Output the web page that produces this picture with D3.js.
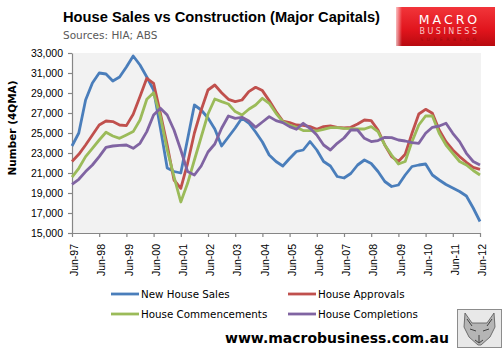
<!DOCTYPE html>
<html>
<head>
<meta charset="utf-8">
<script src="https://cdn.jsdelivr.net/npm/d3@7"></script>
<style>
  body { margin: 0; background: #fff; }
  svg { display: block; font-family: "DejaVu Sans", sans-serif; }
</style>
</head>
<body>
<div id="chart"></div>
<script>
// quarterly, Jun-97 .. Jun-12 (4 quarter moving average)
var sales = [23700, 25000, 28300, 30000, 31000, 30900, 30200, 30600, 31600, 32700,
  31800, 30600, 29300, 25500, 21500, 21150, 21000, 24400, 27800, 27300,
  26500, 25400, 23700, 24600, 25500, 26500, 26000, 25100, 24100, 22800,
  22150, 21700, 22450, 23150, 23300, 24150, 23300, 22150, 21700, 20650,
  20500, 20950, 21800, 22300, 21950, 21150, 20150, 19650, 19800, 20800,
  21650, 21800, 21900, 20800, 20300, 19850, 19500, 19150, 18700, 17500, 16150];
var approvals = [22150, 22870, 23800, 24800, 25800, 26200, 26140, 25800, 25740, 26870,
  28640, 30470, 29970, 26970, 23800, 20300, 19470, 21970, 25000, 27300,
  29300, 29800, 29030, 28370, 28140, 28300, 29140, 29570, 29240, 28240,
  27140, 26200, 26040, 25800, 25770, 25640, 25370, 25640, 25700, 25570,
  25500, 25570, 25900, 26300, 26240, 25300, 23800, 22640, 22150, 22870,
  24970, 26900, 27370, 26970, 25300, 24140, 23300, 22640, 22070, 21570, 21370];
var commencements = [20580, 21470, 22640, 23470, 24300, 25070, 24700, 24470, 24800, 25140,
  26300, 28370, 29030, 26640, 23300, 20640, 18100, 19970, 22300, 24600,
  26900, 28400, 28140, 27900, 27140, 26800, 27370, 27800, 28470, 27970,
  26970, 26140, 25800, 25570, 25240, 25240, 25200, 25370, 25540, 25540,
  25470, 25440, 25400, 25400, 25640, 25140, 23800, 22800, 21900, 22150,
  24140, 25800, 26700, 26700, 24970, 23800, 22970, 22150, 21800, 21250, 20800];
var completions = [19870, 20370, 21140, 21800, 22640, 23570, 23700, 23770, 23800, 23470,
  23970, 25140, 26800, 27470, 26800, 25300, 23300, 21140, 20800, 21700,
  23100, 23900, 25470, 26700, 26470, 26570, 26200, 25570, 26100, 26640,
  26240, 26040, 25640, 25370, 25970, 25470, 24800, 23800, 23300, 23970,
  24500, 25300, 25300, 24470, 24140, 24240, 24570, 24540, 24300, 24200,
  24040, 23970, 24970, 25570, 25700, 25970, 24970, 24140, 22970, 22150, 21800];

var seriesNames = ["New House Sales", "House Approvals", "House Commencements", "House Completions"];
var seriesColors = ["#4a7ebb", "#c0504d", "#9bbb59", "#8064a2"];
var tickLabels = ["Jun-97", "Jun-98", "Jun-99", "Jun-00", "Jun-01", "Jun-02", "Jun-03", "Jun-04",
  "Jun-05", "Jun-06", "Jun-07", "Jun-08", "Jun-09", "Jun-10", "Jun-11", "Jun-12"];
var yTicks = [15000, 17000, 19000, 21000, 23000, 25000, 27000, 29000, 31000, 33000];

var W = 502, H = 352;
var svg = d3.select("#chart").append("svg")
    .attr("width", W)
    .attr("height", H);

// scales
var x = d3.scaleLinear().domain([0, sales.length - 1]).range([72, 480]);
var y = d3.scaleLinear().domain([15000, 33000]).range([233, 53]);

// plot background
svg.append("rect")
    .attr("x", x(0)).attr("y", y(33000))
    .attr("width", x(sales.length - 1) - x(0) + 1)
    .attr("height", y(15000) - y(33000))
    .attr("fill", "#f2f2f2");

// title
svg.append("text")
    .attr("x", 63).attr("y", 22)
    .attr("textLength", 317).attr("lengthAdjust", "spacingAndGlyphs")
    .style("font-family", "'Liberation Sans', sans-serif")
    .style("font-weight", "bold").style("font-size", "15.5px")
    .attr("fill", "#000")
    .text("House Sales vs Construction (Major Capitals)");
svg.append("text")
    .attr("x", 63).attr("y", 39)
    .style("font-size", "10.5px")
    .attr("fill", "#595959")
    .text("Sources: HIA; ABS");

// logo
var defs = svg.append("defs");
var grad = defs.append("linearGradient").attr("id", "logoRed")
    .attr("x1", 0).attr("y1", 0).attr("x2", 0).attr("y2", 1);
grad.append("stop").attr("offset", "0%").attr("stop-color", "#f2353a");
grad.append("stop").attr("offset", "60%").attr("stop-color", "#e0141c");
grad.append("stop").attr("offset", "100%").attr("stop-color", "#b80a10");
var fade = defs.append("linearGradient").attr("id", "logoFade")
    .attr("x1", 0).attr("y1", 0).attr("x2", 1).attr("y2", 0);
fade.append("stop").attr("offset", "0%").attr("stop-color", "#fff").attr("stop-opacity", 0.7);
fade.append("stop").attr("offset", "100%").attr("stop-color", "#fff").attr("stop-opacity", 0);
svg.append("rect").attr("x", 396).attr("y", 7).attr("width", 99).attr("height", 39)
    .attr("fill", "url(#logoRed)");
svg.append("rect").attr("x", 396).attr("y", 7).attr("width", 6).attr("height", 39)
    .attr("fill", "url(#logoFade)");
svg.append("text").attr("x", 449.5).attr("y", 23.5).attr("text-anchor", "middle")
    .style("font-size", "12.5px").style("letter-spacing", "3px")
    .attr("fill", "#fff").text("MACRO");
svg.append("text").attr("x", 449.5).attr("y", 33.5).attr("text-anchor", "middle")
    .style("font-size", "8px").style("letter-spacing", "2.5px")
    .attr("fill", "#f7c6c6").text("BUSINESS");
svg.append("text").attr("x", 450).attr("y", 40.5).attr("text-anchor", "middle")
    .style("font-size", "4.5px").style("letter-spacing", "3.6px")
    .attr("fill", "#9a0a10").text("SUPERBLOG");

// y axis
var yAxis = svg.append("g")
    .attr("transform", "translate(" + x(0) + ",0)")
    .call(d3.axisLeft(y).tickValues(yTicks).tickSize(4).tickSizeOuter(0)
      .tickFormat(d3.format(",")));
yAxis.selectAll("text").style("font-size", "10.5px").attr("fill", "#000").attr("x", -9);

// x axis
var xAxis = svg.append("g")
    .attr("transform", "translate(0," + y(15000) + ")")
    .call(d3.axisBottom(x).tickValues(d3.range(0, sales.length, 4)).tickSize(4).tickSizeOuter(0)
      .tickFormat(function(d, i) { return tickLabels[i]; }));
xAxis.selectAll("text")
    .style("font-size", "10.5px").attr("fill", "#000")
    .attr("transform", "rotate(-90)")
    .attr("x", -11).attr("y", 2).attr("dy", "0.35em")
    .style("text-anchor", "end");

svg.selectAll(".domain, .tick line").attr("stroke", "#868686").attr("stroke-width", 1.2);

// y axis title
svg.append("text")
    .attr("transform", "translate(16,128) rotate(-90)")
    .attr("text-anchor", "middle")
    .style("font-size", "10.5px").style("font-weight", "bold")
    .text("Number (4QMA)");

// lines
var line = d3.line()
    .x(function(d, i) { return x(i); })
    .y(function(d) { return y(d); });
var allSeries = [sales, approvals, commencements, completions];
svg.selectAll(".series")
    .data(allSeries)
    .enter().append("path")
    .attr("class", "series")
    .attr("d", line)
    .attr("fill", "none")
    .attr("stroke", function(d, i) { return seriesColors[i]; })
    .attr("stroke-width", 2.8)
    .attr("stroke-linejoin", "round");

// legend
var legendPos = [[111, 294], [288, 294], [111, 314], [288, 314]];
var legend = svg.selectAll(".legend")
    .data(seriesNames)
    .enter().append("g")
    .attr("class", "legend")
    .attr("transform", function(d, i) { return "translate(" + legendPos[i][0] + "," + legendPos[i][1] + ")"; });
legend.append("line")
    .attr("x1", 0).attr("x2", 28).attr("y1", 0).attr("y2", 0)
    .attr("stroke", function(d, i) { return seriesColors[i]; })
    .attr("stroke-width", 2.8);
legend.append("text")
    .attr("x", 30).attr("y", 0).attr("dy", "0.36em")
    .style("font-size", "10.3px")
    .text(function(d) { return d; });

// footer
svg.append("text")
    .attr("x", 225).attr("y", 343)
    .style("font-size", "14px").style("font-weight", "bold")
    .text("www.macrobusiness.com.au");

// fox picture
var fox = svg.append("g").attr("transform", "translate(457,309)");
fox.append("rect").attr("x", 0.5).attr("y", 0.5).attr("width", 44).attr("height", 38)
    .attr("fill", "#e8e8e8").attr("stroke", "#8c8c8c");
fox.append("path")
    .attr("d", "M8,4 L15,14 L30,14 L37,4 L38,18 L33,28 L24,36 L21,36 L12,28 L7,18 Z")
    .attr("fill", "#b5b5b5").attr("stroke", "#555").attr("stroke-width", 0.8);
fox.append("path")
    .attr("d", "M13,20 L19,22 M26,22 L32,20 M22,26 L22,33 M18,31 L22,34 L26,31 M10,10 L15,17 M35,10 L30,17")
    .attr("fill", "none").attr("stroke", "#333").attr("stroke-width", 0.9);
</script>
</body>
</html>
